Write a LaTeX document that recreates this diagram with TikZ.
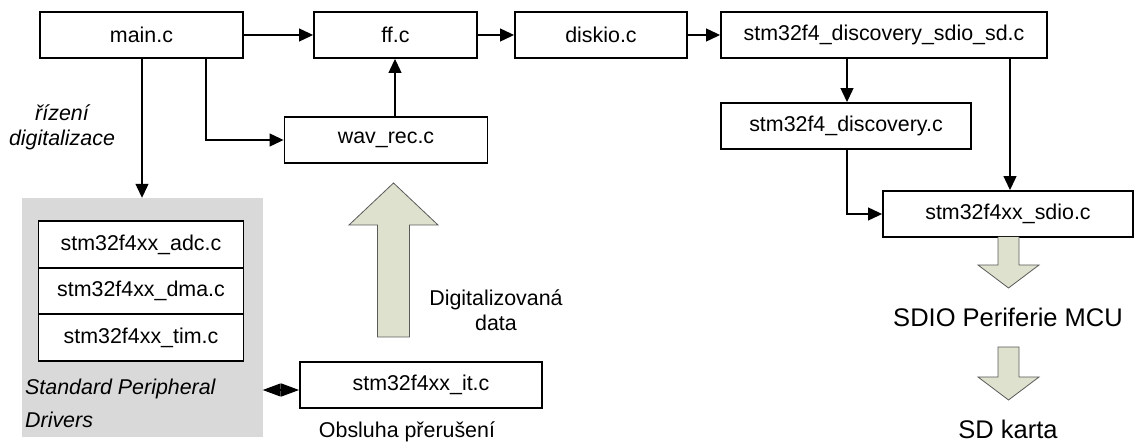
\documentclass[tikz,border=0pt]{standalone}
\usepackage{fontspec}
\setmainfont{Liberation Sans}
\usetikzlibrary{arrows.meta}
\definecolor{grayfill}{RGB}{217,217,217}
\definecolor{bafill}{RGB}{221,225,205}
\definecolor{baline}{RGB}{90,90,90}
\begin{document}
\begin{tikzpicture}[x=1pt,y=-1pt,
  font=\fontsize{21.4}{25}\selectfont,
  box/.style={draw=black,line width=1.9pt,fill=white,inner sep=0pt,anchor=center},
  conn/.style={line width=1.2pt,-{Triangle[length=14pt,width=13pt]}},
  blockarrow/.style={fill=bafill,draw=baline,line width=0.8pt},
  lbl/.style={inner sep=0pt,anchor=center,align=center}]
\useasboundingbox (0,0) rectangle (1135,443);
% gray group
\node[fill=grayfill,minimum width=240.5pt,minimum height=239pt,inner sep=0pt] (spd) at (142.25,317.5) {};
% boxes
\node[box,minimum width=203pt,minimum height=46pt] (main) at (141.5,35) {main.c};
\node[box,minimum width=163pt,minimum height=46pt] (ff) at (395.5,35) {ff.c};
\node[box,minimum width=172pt,minimum height=46pt] (disk) at (601,35) {diskio.c};
\node[box,minimum width=326pt,minimum height=46pt] (sdsd) at (884,35) {stm32f4\_discovery\_sdio\_sd.c};
\node[box,minimum width=250pt,minimum height=46pt] (disc) at (846,126) {stm32f4\_discovery.c};
\node[box,minimum width=250pt,minimum height=46pt] (sdio) at (1008,214) {stm32f4xx\_sdio.c};
\node[box,minimum width=203pt,minimum height=46pt] (wav) at (386,140) {wav\_rec.c};
\node[box,minimum width=242pt,minimum height=46pt] (it) at (421,385) {stm32f4xx\_it.c};
\node[box,minimum width=205pt,minimum height=47pt] (adc) at (141,244.5) {stm32f4xx\_adc.c};
\node[box,minimum width=205pt,minimum height=46pt] (dma) at (141,291) {stm32f4xx\_dma.c};
\node[box,minimum width=205pt,minimum height=47pt] (tim) at (141,337.5) {stm32f4xx\_tim.c};
% connectors
\draw[conn] (main.east) -- (ff.west);
\draw[conn] (ff.east) -- (disk.west);
\draw[conn] (disk.east) -- (sdsd.west);
\draw[conn] (main.south -| 142,0) -- (spd.north -| 142,0);
\draw[conn] (main.south -| 206,0) |- (wav.west);
\draw[conn] (wav.north -| 395,0) -- (ff.south -| 395,0);
\draw[conn] (sdsd.south -| 847,0) -- (disc.north -| 847,0);
\draw[conn] (sdsd.south -| 1010,0) -- (sdio.north -| 1010,0);
\draw[conn] (disc.south -| 847,0) |- (sdio.west);
\coordinate (dl) at (spd.east |- 0,390);
\coordinate (dr) at (it.west |- 0,390);
\draw[line width=1.2pt,{Triangle[length=18pt,width=13pt]}-{Triangle[length=18pt,width=13pt]}] (dl) -- (dr);
% block arrows
\draw[blockarrow] (377.5,337) -- (377.5,225) -- (349,225) -- (393.5,183) -- (438,225) -- (409.5,225) -- (409.5,337) -- cycle;
\draw[blockarrow] (998,237) -- (998,265) -- (978,265) -- (1008.5,288) -- (1039,265) -- (1019,265) -- (1019,237);
\draw[blockarrow] (998,347) -- (998,377) -- (978,377) -- (1008.5,400) -- (1039,377) -- (1019,377) -- (1019,347) -- cycle;
% labels
\node[lbl,font=\fontsize{21.4}{25}\itshape] (ctl) at (62,127.5) {řízení\\digitalizace};
\node[lbl,font=\fontsize{21.4}{33}\itshape,align=left,anchor=west] (spdl) at (25,403.5) {Standard Peripheral\\Drivers};
\node[lbl] (dig) at (496,310) {Digitalizovaná\\data};
\node[lbl] (obs) at (407,432) {Obsluha přerušení};
\node[lbl,font=\fontsize{25.5}{30}\selectfont] (mcu) at (1008,317) {SDIO Periferie MCU};
\node[lbl,font=\fontsize{25.5}{30}\selectfont] (sdk) at (1008,429) {SD karta};
\end{tikzpicture}
\end{document}
